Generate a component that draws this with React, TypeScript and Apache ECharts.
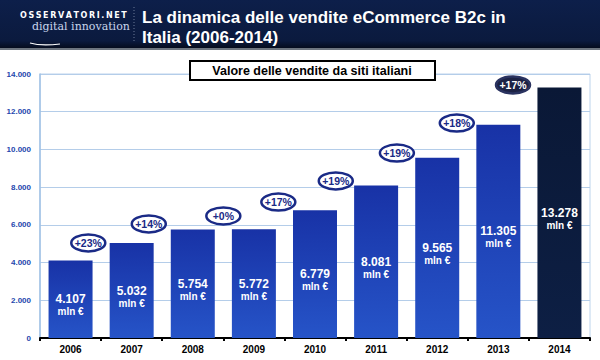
import React, { useEffect, useRef } from "react";
import * as echarts from "echarts";

const years = ["2006", "2007", "2008", "2009", "2010", "2011", "2012", "2013", "2014"];
const sales = [4107, 5032, 5754, 5772, 6779, 8081, 9565, 11305, 13278];
const salesLabels = ["4.107", "5.032", "5.754", "5.772", "6.779", "8.081", "9.565", "11.305", "13.278"];
const growthLabels = ["+23%", "+14%", "+0%", "+17%", "+19%", "+19%", "+18%", "+17%"];
// annotation anchor positions in data units (category index, value)
const growthX = [0.29, 1.28, 2.5, 3.4, 4.34, 5.34, 6.32, 7.24];
const growthY = [5040, 6050, 6470, 7210, 8330, 9810, 11400, 13420];
const yTicks = [0, 2000, 4000, 6000, 8000, 10000, 12000, 14000];

const fmt = (v: number) => (v === 0 ? "0" : v.toLocaleString("de-DE"));

export default function App() {
  const ref = useRef<HTMLDivElement>(null);
  useEffect(() => {
    if (!ref.current) return;
    const chart = echarts.init(ref.current, undefined, { renderer: "svg" });
    const barGrad = new echarts.graphic.LinearGradient(0, 0, 0, 1, [
      { offset: 0, color: "#1832a6" },
      { offset: 1, color: "#2654c8" },
    ]);
    const lastGrad = new echarts.graphic.LinearGradient(0, 0, 0, 1, [
      { offset: 0, color: "#0a1836" },
      { offset: 1, color: "#0d1f44" },
    ]);
    chart.setOption({
      animation: false,
      backgroundColor: "#ffffff",
      grid: {
        left: 40,
        right: 10,
        top: 74,
        bottom: 22,
        show: true,
        borderColor: "#bcd3ec",
        borderWidth: 1,
      },
      xAxis: [
        {
          type: "category",
          data: years,
          axisLine: { onZero: false, lineStyle: { color: "#000", width: 2 } },
          axisTick: { show: true, length: 3, lineStyle: { color: "#000", width: 2 } },
          axisLabel: {
            color: "#000",
            fontFamily: "Liberation Sans",
            fontWeight: "bold",
            fontSize: 10,
            margin: 6,
          },
        },
        { type: "value", min: -0.5, max: 8.5, show: false },
      ],
      yAxis: {
        type: "value",
        min: yTicks[0],
        max: yTicks[yTicks.length - 1],
        interval: 2000,
        axisLine: { show: true, onZero: false, lineStyle: { color: "#9fc0e4", width: 1.5 } },
        axisTick: { show: false },
        splitLine: { lineStyle: { color: "#b4cde9", width: 1 } },
        axisLabel: {
          color: "#2446ad",
          fontFamily: "Liberation Sans",
          fontWeight: "bold",
          fontSize: 8,
          margin: 9,
          formatter: (v: number) => fmt(v),
        },
      },
      graphic: [
        {
          type: "rect",
          shape: { x: 0, y: 0, width: 600, height: 50 },
          style: { fill: "#6e7680" },
          z: 1,
        },
        {
          type: "rect",
          shape: { x: 0, y: 0, width: 600, height: 48 },
          style: {
            fill: new echarts.graphic.LinearGradient(0, 0, 0, 1, [
              { offset: 0, color: "#0d1f4a" },
              { offset: 0.85, color: "#0b1a3e" },
              { offset: 1, color: "#050c1e" },
            ]),
          },
          z: 2,
        },
        {
          type: "text",
          x: 20,
          y: 15,
          z: 3,
          style: {
            text: "O\u2009S\u2009S\u2009E\u2009R\u2009V\u2009A\u2009T\u2009O\u2009R\u2009I\u2009.\u2009N\u2009E\u2009T",
            fill: "#ffffff",
            font: "bold 8px 'DejaVu Sans'",
            verticalAlign: "middle",
          },
        },
        {
          type: "text",
          x: 32,
          y: 26,
          z: 3,
          style: {
            text: "digital innovation",
            fill: "#c8d6ec",
            font: "11px 'DejaVu Serif'",
            verticalAlign: "middle",
          },
        },
        {
          type: "bezierCurve",
          z: 3,
          shape: { x1: 30, y1: 43, cpx1: 40, cpy1: 46, cpx2: 52, cpy2: 45, x2: 60, y2: 44 },
          style: { stroke: "#ffffff", lineWidth: 1.2, fill: null },
        },
        {
          type: "line",
          z: 3,
          shape: { x1: 134, y1: 7, x2: 134, y2: 43 },
          style: { stroke: "#6c7a98", lineWidth: 1, lineDash: [1, 2] },
        },
        {
          type: "text",
          x: 142,
          y: 17,
          z: 3,
          style: {
            text: "La dinamica delle vendite eCommerce B2c in",
            fill: "#ffffff",
            font: "bold 17px 'Liberation Sans'",
            verticalAlign: "middle",
          },
        },
        {
          type: "text",
          x: 142,
          y: 37,
          z: 3,
          style: {
            text: "Italia (2006-2014)",
            fill: "#ffffff",
            font: "bold 17px 'Liberation Sans'",
            verticalAlign: "middle",
          },
        },
        {
          type: "rect",
          z: 10,
          shape: { x: 190, y: 61, width: 245, height: 19 },
          style: { fill: "#ffffff", stroke: "#000000", lineWidth: 2 },
        },
        {
          type: "text",
          z: 11,
          x: 312,
          y: 70.5,
          style: {
            text: "Valore delle vendite da siti italiani",
            fill: "#000",
            font: "bold 12.5px 'Liberation Sans'",
            align: "center",
            verticalAlign: "middle",
          },
        },
      ],
      series: [
        {
          type: "bar",
          data: sales.map((v, i) => ({
            value: v,
            itemStyle: { color: i === sales.length - 1 ? lastGrad : barGrad },
          })),
          barWidth: "72%",
          label: {
            show: true,
            position: "inside",
            offset: [0, 6],
            formatter: (p: any) => `{a|${salesLabels[p.dataIndex]}}\n{b|mln €}`,
            rich: {
              a: {
                color: "#fff",
                fontFamily: "Liberation Sans",
                fontWeight: "bold",
                fontSize: 12,
                lineHeight: 13,
              },
              b: {
                color: "#fff",
                fontFamily: "Liberation Sans",
                fontWeight: "bold",
                fontSize: 10,
                lineHeight: 12,
              },
            },
          },
        },
        {
          type: "custom",
          xAxisIndex: 1,
          yAxisIndex: 0,
          z: 5,
          data: growthX.map((x, i) => [x, growthY[i]]),
          renderItem: (params: any, api: any) => {
            const p = api.coord([api.value(0), api.value(1)]);
            const idx = params.dataIndex;
            const last = idx === growthLabels.length - 1;
            return {
              type: "group",
              children: [
                {
                  type: "ellipse",
                  shape: { cx: p[0], cy: p[1], rx: 17, ry: 8.5 },
                  style: {
                    fill: last ? "#1c2244" : "#ffffff",
                    stroke: last ? "#2a3360" : "#1a2a86",
                    lineWidth: 2.5,
                  },
                },
                {
                  type: "text",
                  x: p[0],
                  y: p[1],
                  style: {
                    text: growthLabels[idx],
                    fill: last ? "#ffffff" : "#1a2a86",
                    font: "bold 10.5px 'Liberation Sans'",
                    align: "center",
                    verticalAlign: "middle",
                  },
                },
              ],
            };
          },
        },
      ],
    });
    return () => chart.dispose();
  }, []);
  return <div ref={ref} style={{ width: 600, height: 360, position: "fixed", left: 0, top: 0 }} />;
}
